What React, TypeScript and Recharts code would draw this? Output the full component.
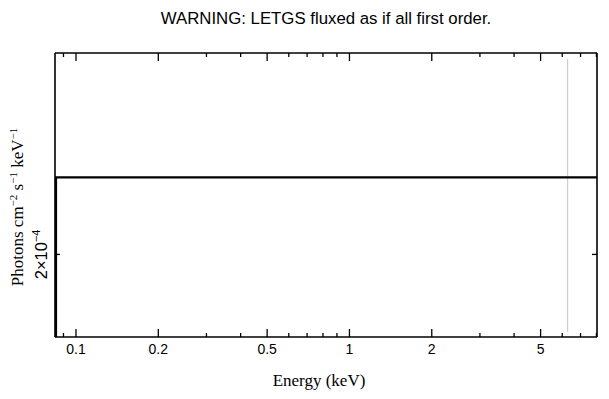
import { LineChart, Line, XAxis, YAxis, ReferenceLine } from 'recharts';

// spectrum points (keV, photons cm^-2 s^-1 keV^-1)
const energy = [0.0845, 0.0845, 8.04];
const flux = [1.0e-5, 2.265e-4, 2.265e-4];

const xMajor = [0.1, 0.2, 0.5, 1, 2, 5];
const xMinor = [0.09, 0.3, 0.4, 0.6, 0.7, 0.8, 0.9, 3, 4, 6, 7, 8];
const yTicks = [2e-4];

const xDomain = [0.0838, 8.04];
const yDomain = [1.75e-4, 2.77e-4];

// faint vertical marker
const markerEnergy = 6.28;
const markerRange = [1.764e-4, 2.744e-4];

const data = energy.map((e, i) => ({ e, flux: flux[i] }));
const xTicks = [...xMajor, ...xMinor].sort((a, b) => a - b);

const SANS = '"Liberation Sans", Arial, Helvetica, sans-serif';
const SERIF = '"Liberation Serif", "Times New Roman", serif';

const BottomTick = (props: any) => {
  const { x, y, payload } = props;
  const major = xMajor.includes(payload.value);
  return (
    <g>
      <line x1={x} x2={x} y1={y} y2={y - (major ? 8 : 4)} stroke="#000" strokeWidth={1.3} />
      {major && (
        <text x={x} y={y + 17} textAnchor="middle" fontSize={14} fontFamily={SANS} fill="#000">
          {payload.value}
        </text>
      )}
    </g>
  );
};

const TopTick = (props: any) => {
  const { x, y, payload } = props;
  const major = xMajor.includes(payload.value);
  return <line x1={x} x2={x} y1={y} y2={y + (major ? 8 : 4)} stroke="#000" strokeWidth={1.3} />;
};

const LeftTick = (props: any) => {
  const { x, y } = props;
  const lx = x - 8;
  return (
    <g>
      <line x1={x} x2={x + 5} y1={y} y2={y} stroke="#000" strokeWidth={1.3} />
      <text
        x={lx}
        y={y}
        transform={`rotate(-90, ${lx}, ${y})`}
        textAnchor="middle"
        fontSize={16.5}
        fontFamily={SANS}
        fill="#000"
      >
        2×10
        <tspan fontSize={11} dy={-7}>−4</tspan>
      </text>
    </g>
  );
};

const RightTick = (props: any) => {
  const { x, y } = props;
  return <line x1={x} x2={x - 5} y1={y} y2={y} stroke="#000" strokeWidth={1.3} />;
};

export default function App() {
  return (
    <div style={{ position: 'absolute', left: 0, top: 0, background: '#fff' }}>
      <LineChart
        width={609}
        height={399}
        data={data}
        margin={{ top: 43, right: 2, bottom: 32, left: 25 }}
      >
        <XAxis
          xAxisId="b"
          dataKey="e"
          type="number"
          scale="log"
          domain={xDomain}
          allowDataOverflow
          ticks={xTicks}
          interval={0}
          height={30}
          tickSize={0}
          tickMargin={0}
          tickLine={false}
          tick={<BottomTick />}
          axisLine={{ stroke: '#000', strokeWidth: 1.6 }}
        />
        <XAxis
          xAxisId="t"
          orientation="top"
          dataKey="e"
          type="number"
          scale="log"
          domain={xDomain}
          allowDataOverflow
          ticks={xTicks}
          interval={0}
          height={10}
          tickSize={0}
          tickMargin={0}
          tickLine={false}
          tick={<TopTick />}
          axisLine={{ stroke: '#000', strokeWidth: 1.6 }}
        />
        <YAxis
          yAxisId="l"
          type="number"
          scale="log"
          domain={yDomain}
          allowDataOverflow
          ticks={yTicks}
          interval={0}
          width={30}
          tickSize={0}
          tickMargin={0}
          tickLine={false}
          tick={<LeftTick />}
          axisLine={{ stroke: '#000', strokeWidth: 1.6 }}
        />
        <YAxis
          yAxisId="r"
          orientation="right"
          type="number"
          scale="log"
          domain={yDomain}
          allowDataOverflow
          ticks={yTicks}
          interval={0}
          width={10}
          tickSize={0}
          tickMargin={0}
          tickLine={false}
          tick={<RightTick />}
          axisLine={{ stroke: '#000', strokeWidth: 1.6 }}
        />
        <ReferenceLine
          xAxisId="b"
          yAxisId="l"
          segment={[
            { x: markerEnergy, y: markerRange[0] },
            { x: markerEnergy, y: markerRange[1] },
          ]}
          stroke="#c4c4c4"
          strokeWidth={1}
        />
        <Line
          xAxisId="b"
          yAxisId="l"
          dataKey="flux"
          type="linear"
          stroke="#000"
          strokeWidth={2.2}
          dot={false}
          isAnimationActive={false}
        />
        <text x={326} y={24} textAnchor="middle" fontSize={16.8} fontFamily={SANS} fill="#000">
          WARNING: LETGS fluxed as if all first order.
        </text>
        <text x={319} y={386} textAnchor="middle" fontSize={17} fontFamily={SERIF} fill="#000">
          Energy (keV)
        </text>
        <text
          x={23}
          y={207}
          transform="rotate(-90, 23, 207)"
          textAnchor="middle"
          fontSize={17}
          fontFamily={SERIF}
          fill="#000"
        >
          Photons cm
          <tspan fontSize={11} dy={-6}>−2</tspan>
          <tspan dy={6}> s</tspan>
          <tspan fontSize={11} dy={-6}>−1</tspan>
          <tspan dy={6}> keV</tspan>
          <tspan fontSize={11} dy={-6}>−1</tspan>
        </text>
      </LineChart>
    </div>
  );
}
